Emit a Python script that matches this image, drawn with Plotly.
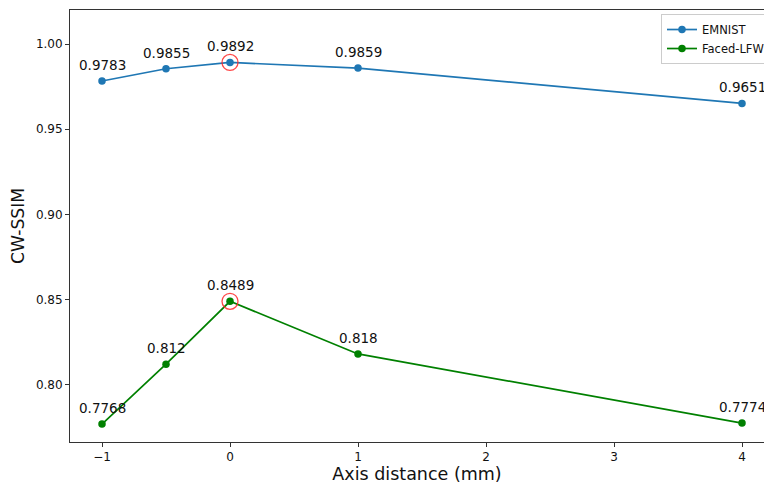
import plotly.graph_objects as go

axis_distance = [-1, -0.5, 0, 1, 4]
emnist = [0.9783, 0.9855, 0.9892, 0.9859, 0.9651]
faced_lfw = [0.7768, 0.812, 0.8489, 0.818, 0.7774]
x_ticks = [-1, 0, 1, 2, 3, 4]
y_ticks = [0.80, 0.85, 0.90, 0.95, 1.00]

FONT = "DejaVu Sans"
series = [("EMNIST", emnist, "#1f77b4"), ("Faced-LFW", faced_lfw, "#008000")]

fig = go.Figure()
annotations = []
for name, vals, col in series:
    fig.add_trace(go.Scatter(
        x=axis_distance, y=vals, name=name, mode="lines+markers",
        line=dict(color=col, width=1.7),
        marker=dict(color=col, size=7.5, symbol="circle"),
        cliponaxis=False,
    ))
    for xv, yv in zip(axis_distance, vals):
        annotations.append(dict(
            x=xv, y=yv, xref="x", yref="y", text=str(yv), showarrow=False,
            yanchor="middle", xanchor="center", yshift=16,
            font=dict(family=FONT, size=13.5, color="#111111"),
        ))

# highlight the maximum of each series
hx, hy = [], []
for name, vals, col in series:
    i = max(range(len(vals)), key=lambda k: vals[k])
    hx.append(axis_distance[i])
    hy.append(vals[i])
fig.add_trace(go.Scatter(
    x=hx, y=hy, mode="markers", showlegend=False, hoverinfo="skip",
    marker=dict(symbol="circle-open", size=16, color="rgba(255,40,40,0.85)",
                line=dict(width=1.3)),
    cliponaxis=False,
))

fig.update_layout(
    width=764, height=484,
    margin=dict(l=70, r=0, t=10, b=42, autoexpand=False),
    paper_bgcolor="white", plot_bgcolor="white",
    font=dict(family=FONT, color="#111111"),
    annotations=annotations,
    showlegend=True,
    legend=dict(
        x=0.8516, y=0.9907, xanchor="left", yanchor="top",
        bgcolor="rgba(255,255,255,0.8)", bordercolor="#cccccc", borderwidth=1,
        font=dict(family=FONT, size=11.5, color="#111111"),
        itemwidth=30, tracegroupgap=0,
    ),
)
fig.update_xaxes(
    range=[-1.25, 4.1719], tickvals=x_ticks,
    ticktext=["\u22121" if t < 0 else str(t) for t in x_ticks],
    showgrid=False, zeroline=False,
    showline=True, linecolor="#333333", linewidth=0.9, mirror=True,
    ticks="outside", ticklen=4, tickwidth=0.9, tickcolor="#333333",
    tickfont=dict(family=FONT, size=12, color="#111111"),
    title=dict(text="Axis distance (mm)", font=dict(family=FONT, size=17.5, color="#111111"), standoff=4),
    automargin=False,
)
fig.update_yaxes(
    range=[0.76627, 1.02], tickvals=y_ticks, ticktext=[f"{t:.2f}" for t in y_ticks],
    showgrid=False, zeroline=False,
    showline=True, linecolor="#333333", linewidth=0.9, mirror=False,
    ticks="outside", ticklen=4, tickwidth=0.9, tickcolor="#333333",
    tickfont=dict(family=FONT, size=12, color="#111111"),
    title=dict(text="CW-SSIM", font=dict(family=FONT, size=17.2, color="#111111"), standoff=6),
    automargin=False,
)

fig.write_html("out.html", config={"displayModeBar": False},
               post_script="document.body.style.margin='0';")
